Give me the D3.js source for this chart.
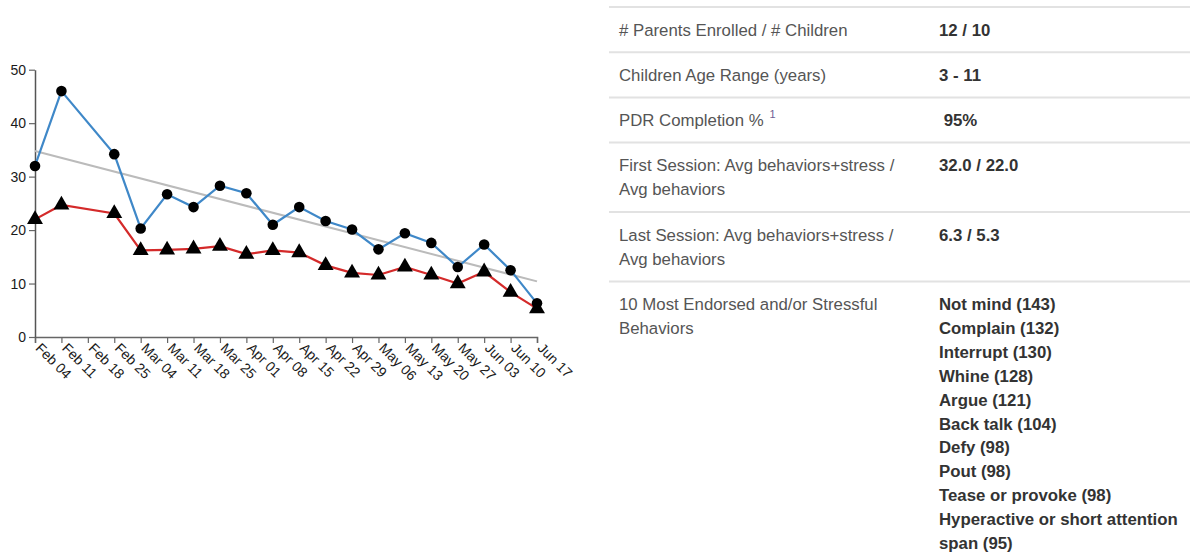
<!DOCTYPE html>
<html>
<head>
<meta charset="utf-8">
<script src="https://cdn.jsdelivr.net/npm/d3@7"></script>
<style>
  html, body { margin: 0; padding: 0; background: #fff; }
  svg { display: block; font-family: "Liberation Sans", Arial, sans-serif; }
</style>
</head>
<body>
<svg id="chart" width="1190" height="554"></svg>
<script>
// ---------- data ----------
const tickDates = ["2019-02-04","2019-02-11","2019-02-18","2019-02-25","2019-03-04","2019-03-11","2019-03-18","2019-03-25","2019-04-01","2019-04-08","2019-04-15","2019-04-22","2019-04-29","2019-05-06","2019-05-13","2019-05-20","2019-05-27","2019-06-03","2019-06-10","2019-06-17"];
const tickLabels = ["Feb 04","Feb 11","Feb 18","Feb 25","Mar 04","Mar 11","Mar 18","Mar 25","Apr 01","Apr 08","Apr 15","Apr 22","Apr 29","May 06","May 13","May 20","May 27","Jun 03","Jun 10","Jun 17"];
const sessionDates = ["2019-02-04","2019-02-11","2019-02-25","2019-03-04","2019-03-11","2019-03-18","2019-03-25","2019-04-01","2019-04-08","2019-04-15","2019-04-22","2019-04-29","2019-05-06","2019-05-13","2019-05-20","2019-05-27","2019-06-03","2019-06-10","2019-06-17"];
const behaviorsPlusStress = [32.0, 46.0, 34.2, 20.3, 26.7, 24.3, 28.3, 26.9, 21.0, 24.3, 21.7, 20.1, 16.4, 19.4, 17.6, 13.1, 17.3, 12.5, 6.3];
const behaviorsOnly      = [22.0, 24.7, 23.1, 16.2, 16.3, 16.5, 17.0, 15.5, 16.2, 15.8, 13.4, 12.0, 11.6, 13.1, 11.6, 10.0, 12.2, 8.4, 5.3];
const trendDates = ["2019-02-04","2019-06-17"];
const trendValues = [34.8, 10.4];
const yTicks = [0, 10, 20, 30, 40, 50];

const tableLabels = [
  ["# Parents Enrolled / # Children"],
  ["Children Age Range (years)"],
  ["PDR Completion %"],
  ["First Session: Avg behaviors+stress /", "Avg behaviors"],
  ["Last Session: Avg behaviors+stress /", "Avg behaviors"],
  ["10 Most Endorsed and/or Stressful", "Behaviors"]
];
const tableValues = ["12 / 10", "3 - 11", "\u00a095%", "32.0 / 22.0", "6.3 / 5.3", null];
const footnotes = [null, null, "1", null, null, null];
const behaviorNames = ["Not mind","Complain","Interrupt","Whine","Argue","Back talk","Defy","Pout","Tease or provoke","Hyperactive or short attention span"];
const behaviorCounts = [143, 132, 130, 128, 121, 104, 98, 98, 98, 95];

// ---------- chart ----------
const svg = d3.select("#chart");
const parse = d3.utcParse("%Y-%m-%d");

const x = d3.scaleUtc()
  .domain([parse(tickDates[0]), parse(tickDates[tickDates.length - 1])])
  .range([35, 537]);
const y = d3.scaleLinear().domain([0, 50]).range([337, 69.7]);

const g = svg.append("g");

// x axis
const xAxis = d3.axisBottom(x)
  .tickValues(tickDates.map(parse))
  .tickFormat((d, i) => tickLabels[i])
  .tickSizeOuter(0)
  .tickSize(6);
const gx = g.append("g").attr("transform", `translate(0,${y(0)})`).call(xAxis);
gx.select(".domain").attr("stroke", "#666").attr("stroke-width", 1.5);
gx.selectAll(".tick line").attr("stroke", "#666").attr("stroke-width", 1.2);
gx.selectAll(".tick text")
  .attr("x", 8).attr("y", 9).attr("dy", 0)
  .attr("text-anchor", "start")
  .attr("transform", "rotate(45)")
  .attr("fill", "#1a1a1a")
  .style("font-size", "14px")
  .style("font-family", "'Liberation Sans', Arial, sans-serif");

// y axis
const yAxis = d3.axisLeft(y).tickValues(yTicks).tickSize(6).tickSizeOuter(0);
const gy = g.append("g").attr("transform", `translate(${x.range()[0]},0)`).call(yAxis);
gy.select(".domain").attr("stroke", "#555").attr("stroke-width", 1.5);
gy.selectAll(".tick line").attr("stroke", "#666").attr("stroke-width", 1.2);
gy.selectAll(".tick text")
  .attr("fill", "#1a1a1a")
  .style("font-size", "14px")
  .style("font-family", "'Liberation Sans', Arial, sans-serif");

// trend line
const line = d3.line().x(d => x(d[0])).y(d => y(d[1]));
g.append("path")
  .datum(trendDates.map((d, i) => [parse(d), trendValues[i]]))
  .attr("d", line)
  .attr("fill", "none")
  .attr("stroke", "#bbbbbb")
  .attr("stroke-width", 2);

const blueData = sessionDates.map((d, i) => [parse(d), behaviorsPlusStress[i]]);
const redData = sessionDates.map((d, i) => [parse(d), behaviorsOnly[i]]);

g.append("path").datum(redData).attr("d", line)
  .attr("fill", "none").attr("stroke", "#d42a2a").attr("stroke-width", 2.2);
g.append("path").datum(blueData).attr("d", line)
  .attr("fill", "none").attr("stroke", "#3f88c8").attr("stroke-width", 2.2);

g.selectAll(".tri").data(redData).join("path")
  .attr("class", "tri")
  .attr("d", d3.symbol(d3.symbolTriangle, 110))
  .attr("transform", d => `translate(${x(d[0])},${y(d[1])})`)
  .attr("fill", "#000");

g.selectAll(".dot").data(blueData).join("circle")
  .attr("class", "dot")
  .attr("cx", d => x(d[0])).attr("cy", d => y(d[1]))
  .attr("r", 5.3).attr("fill", "#000");

// ---------- table ----------
const tableX = 609, labelX = 619, valueX = 939;
const lineH = 24.2, listLineH = 23.9, pad = 10.5;
const t = svg.append("g").style("font-size", "16.8px");
let rowTop = 7;
tableLabels.forEach((lines, i) => {
  t.append("line")
    .attr("x1", tableX).attr("x2", 1190)
    .attr("y1", rowTop).attr("y2", rowTop)
    .attr("stroke", "#e2e2e2").attr("stroke-width", 2);
  const base = rowTop + pad + lineH / 2 + 6;
  const lt = t.append("text").attr("x", labelX).attr("y", base).attr("fill", "#555");
  lines.forEach((s, k) => {
    lt.append("tspan").attr("x", labelX).attr("y", base + k * lineH).text(s);
  });
  if (footnotes[i]) {
    lt.append("tspan").attr("dx", 6).attr("dy", -8)
      .attr("fill", "#6f5f94").style("font-size", "11px").text(footnotes[i]);
  }
  let nLines = lines.length;
  if (tableValues[i] !== null) {
    t.append("text").attr("x", valueX).attr("y", base)
      .attr("fill", "#333").attr("font-weight", "bold").text(tableValues[i]);
  } else {
    const vt = t.append("text").attr("fill", "#333").attr("font-weight", "bold");
    let k = 0;
    behaviorNames.forEach((nm, j) => {
      const full = `${nm} (${behaviorCounts[j]})`;
      if (full.length > 34) {
        const words = full.split(" ");
        const first = words.slice(0, words.length - 2).join(" ");
        const second = words.slice(words.length - 2).join(" ");
        vt.append("tspan").attr("x", valueX).attr("y", base + k * listLineH).text(first); k++;
        vt.append("tspan").attr("x", valueX).attr("y", base + k * listLineH).text(second); k++;
      } else {
        vt.append("tspan").attr("x", valueX).attr("y", base + k * listLineH).text(full); k++;
      }
    });
    nLines = Math.max(nLines, k);
  }
  rowTop += nLines * lineH + 2 * pad;
});
</script>
</body>
</html>
